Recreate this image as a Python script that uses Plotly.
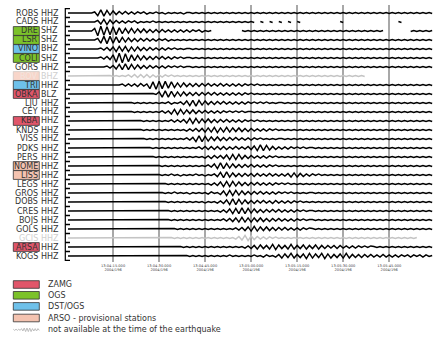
import numpy as np
import plotly.graph_objects as go

# ---------------- data ----------------
STATIONS = ["ROBS", "CADS", "DRE", "LSR", "VINO", "COLI", "GORS", "BOV", "TRI", "OBKA",
            "LJU", "CEY", "KBA", "KNDS", "VISS", "PDKS", "PERS", "NOME", "LISS", "LEGS",
            "GROS", "DOBS", "CRES", "BOJS", "GOLS", "GCIS", "ARSA", "KOGS"]
CHANNELS = ["HHZ", "HHZ", "SHZ", "SHZ", "BHZ", "SHZ", "HHZ", "BHZ", "HHZ", "BLZ",
            "HHZ", "HHZ", "HHZ", "HHZ", "HHZ", "HHZ", "HHZ", "HHZ", "HHZ", "HHZ",
            "HHZ", "HHZ", "HHZ", "HHZ", "HHZ", "HHZ", "HHZ", "HHZ"]
NETWORKS = ["", "", "OGS", "OGS", "DST/OGS", "OGS", "", "ARSO", "DST/OGS", "ZAMG",
            "", "", "ZAMG", "", "", "", "", "ARSO", "ARSO", "",
            "", "", "", "", "", "", "ZAMG", ""]
AVAILABLE = [True] * 7 + [False] + [True] * 17 + [False] + [True] * 2

# Seismogram samples, 1 per second from 13:04:00 (10 samples per group).
# '0'-'9' = +0..+9, 'a'-'i' = -1..-9, '.' = no data
WAVES = [
    "0000000002 e6f5d4c3b3 b2b2a2b1a2 a1b1a1a1b1 1a1a1a1a1a 1a1a1a1a1a 1a1a1a1a1a 1a1a1a1a1a 1a1a1a1a1a 1a1a1a1a1a 1a1a1a1a1a 1a1a1a1a1a",  # ROBS
    "0000000000 3d5e4c3b2b 2a2b1a1a2a 1a1a1a1a1a 1a1a1a1a1a 1a1a1a1a1a 1a.1a.1a.1 a.1a.1a.1. .........1 a......... ........1a ..........",  # CADS
    "0000000005 i9h8g8g6e5 d5d4c4c3c3 c3b2b2b2b2 b2a2b1a1.. .......1a1 a1a1a1a1a1 a1a1a1a1a1 a1a1a1a1a1 a1a1a1a1a1 a1a1...... ..a1a1a1a1",  # DRE
    "0000000000 3f7g7f6e5d 4c3c3b3b2b 2a2b1a1a1a 1a1a1a1a1a 1a1a1a1a1a 1a1a1a1a1a 1a1a1a1a1a 1a1a1a1a1a 1a1a1a1a1a 1a1a1a1a1a 1a1a1a1a1a",  # LSR
    "0000000000 02b3c4e5d5 e4d4c3c3b2 b2b2a2a1a1 1a1a1a1a1a 1a1a1a1a1a 1a1a1a1a1a 1a1a1a1a1a 1a1a1a1a1a 1a1a1a1a1a 1a1a1a1a1a 1a1a1a1a1a",  # VINO
    "0000000000 02b3c6h9i8 g6e5d4c3c3 b3b2b2a2a1 1a1a1a1a1a 1a1a1a1a1a 1a1a1a1a1a 1a1a1a1a1a 1a1a1a1a1a 1a1a1a1a1a 1a1a1a1a1a 1a1a1a1a1a",  # COLI
    "0000000000 0002b3d5e6 e5d4c3c3b2 b2b2a2a2a1 1a1a1a1a1a 1a1a1a1a1a 1a1a1a1a1a 1a1a1a1a1a 1a1a1a1a1a 1a1a1a1a1a 1a1a1a1a1a 1a1a1a1a1a",  # GORS
    "0000000000 00001a1a1a 2b3c3c3c2b 2b2a2a1a1a 1a1a1a1a1a 1a1a1a1a1a 1a1a1a1a1a 1a1a1a1a1a 1a1a1a1a1a 1a1a1a1a.. .......... ..........",  # BOV (n/a)
    "0000000000 000000002b 2b2c3b2g6h 7g7f6e4d4c 3c3c3b3b2b 3b2b2b2b2a 2a2a1a1a1a 1a1a1a1a1a 1a1a1a1a1a 1a1a1a1a1a 1a1a1a1a1a 1a1a1a1a1a",  # TRI
    "0000000000 0000000000 000000001a 4f6f5e4d4c 3c3c3b3b3b 2b2b2b2b2a 2a1a1a1a1a 1a1a1a1a1a 1a1a1a1a1a 1a1a1a1a1a 1a1a1a1a1a 1a1a1a1a1a",  # OBKA
    "0000000000 0000000000 01a1a1a1a1 a1a2b1a2c4 e5f5d4c3c3 b3b2b2b2b2 a2a2a2a1a1 1a1a1a1a1a 1a1a1a1a1a 1a1a1a1a1a 1a1a1a1a1a 1a1a1a1a1a",  # LJU
    "0000000000 0000000000 01a1a1a1a1 a2b2d5e5d4 c4c3b3b2b2 b2a2a2a2a1 1a1a1a1a1a 1a1a1a1a1a 1a1a1a1a1a 1a1a1a1a1a 1a1a1a1a1a 1a1a1a1a1a",  # CEY
    "0000000000 0000000000 00001a1a1a 1a1a2b2b3d 5e5d4c4c3c 3b3b2b2b2a 2a2a1a1a1a 1a1a1a1a1a 1a1a1a1a1a 1a1a1a1a1a 1a1a1a1a1a 1a1a1a1a1a",  # KBA
    "0000000000 0000000000 00001a1a1a 1a1a1a1a1b 2b3c3d4d5e 4d5d4c4c3c 3b2b2b2a2a 1a1a1a1a1a 1a1a1a1a1a 1a1a1a1a1a 1a1a1a1a1a 1a1a1a1a1a",  # KNDS
    "0000000000 0000000000 000001a1a1 a1a1a1a1a2 b3e6e5d4c4 c3c3b3b2b2 b2a2a1a1a1 1a1a1a1a1a 1a1a1a1a1a 1a1a1a1a1a 1a1a1a1a1a 1a1a1a1a1a",  # VISS
    "0000000000 0000000000 00000001a1 a1a1a1a1a1 a1a2b3c3c3 c3c2b3b2b3 c4e6e5d3c2 b2b2a2a2a1 1a1a1a1a1a 1a1a1a1a1a 1a1a1a1a1a 1a1a1a1a1a",  # PDKS
    "0000000000 0000000000 000000001a 1a1a1a1a1a 1a1a1b2c3b 3c4e5e5d3c 3b2b2b2a2a 1a1a1a1a1a 1a1a1a1a1a 1a1a1a1a1a 1a1a1a1a1a 1a1a1a1a1a",  # PERS
    "0000000000 0000000000 0000000000 1a1a1a1a1a 1a1a1a2b4e 6e5d4c3c3b 3b2b2b2a2a 1a1a1a1a1a 1a1a1a1a1a 1a1a1a1a1a 1a1a1a1a1a 1a1a1a1a1a",  # NOME
    "0000000000 0000000000 0000000000 1a1a2a1b1a 1a2a1b1a2c 5e6d4c3c3b 3c3b2b3b2b 2b3d4d3c2b 2a2a1a1a1a 1a1a1a1a1a 1a1a1a1a1a 1a1a1a1a1a",  # LISS
    "0000000000 0000000000 0000000000 001a1a1a1a 1a1a1a1b2c 4e5e5d4c3c 3b3b2b2b2a 2a2a1a1a1a 1a1a1a1a1a 1a1a1a1a1a 1a1a1a1a1a 1a1a1a1a1a",  # LEGS
    "0000000000 0000000000 0000000000 01a1a2a1a1 b1a1a1b2a1 c4e5e5d4c3 c3b3b2b2b2 a2a2a1a1a1 1a1a1a1a1a 1a1a1a1a1a 1a1a1a1a1a 1a1a1a1a1a",  # GROS
    "0000000000 0000000000 0000000000 001a1a1a1a 1a1a1b1a1b 2c4e6e5d4c 3c3b3b2c3b 2b2b2a2a1a 1a1a1a1a1a 1a1a1a1a1a 1a1a1a1a1a 1a1a1a1a1a",  # DOBS
    "0000000000 0000000000 0000000000 0001a1a1a1 a1a1a1a1a1 b2c4e5e6e5 d4c3c3b3b3 b2b2b2a2a1 1a1a1a1a1a 1a1a1a1a1a 1a1a1a1a1a 1a1a1a1a1a",  # CRES
    "0000000000 0000000000 0000000000 0001a1a1a1 a1a1a1a1a1 a2b3c4d5d4 d4c4c3c3b3 b2b2b2a2a1 1a1a1a1a1a 1a1a1a1a1a 1a1a1a1a1a 1a1a1a1a1a",  # BOJS
    "0000000000 0000000000 0000000000 000001a1a1 a1a1a1a1a1 a1a1a2b3c4 d5d4c4c3c3 b3b2b2b2a2 1a1a1a1a1a 1a1a1a1a1a 1a1a1a1a1a 1a1a1a1a1a",  # GOLS
    "0000000000 0000000000 0000000000 00001a1a1a 1a1a1a1a1a 1a1a1b3d5e 4c3b2b2a2a 1a1a1a1a1a 1a1a1a1a1a 1a1a1a1a1a 1a1a1a1a1a 1a1a1.....",  # GCIS (n/a)
    "0000000000 0000000000 0000000000 00000001a1 a1a1a1a1a1 a1a1a1a1b2 c3d4c3d5e4 c3d5d3c4d3 c4d3c3b3c3 b2b2b2a2a2 1a1a1a1a1a 1a1a1a1a1a",  # ARSA
    "0000000000 0000000000 0000000000 0000000001 a1a1a1a1a1 a1a2a1a1a1 a2a1b2a1b3 d4c5d3c4e5 d4c5e4d3c4 d5d3c3c3b3 b2b3b2b2b2 a2b2a2b2a1",  # KOGS
]

TICK_SECONDS = [15, 30, 45, 60, 75, 90, 105]
TICK_TIMES = ["13:04:15.000", "13:04:30.000", "13:04:45.000", "13:05:00.000",
              "13:05:15.000", "13:05:30.000", "13:05:45.000"]
TICK_DATE = "2004/196"

LEGEND_LABELS = ["ZAMG", "OGS", "DST/OGS", "ARSO - provisional stations",
                 "not available at the time of the earthquake"]
NETWORK_COLORS = {"ZAMG": "#e0566a", "OGS": "#7cc22a", "DST/OGS": "#6ec1ea",
                  "ARSO": "#f4c3b0"}

# ---------------- layout geometry ----------------
W, H = 434, 340
L, R, T, B = 68, 0, 5, 78
PW, PH = W - L - R, H - T - B
ROW_PX, FIRST_ROW_PX = 9, 13
AMP = 0.058         # row units per amplitude step
FONT = "DejaVu Sans"


def xp(px):
    return (px - L) / PW


def yp(py):
    return (T + PH - py) / PH


def row_px(i):
    return FIRST_ROW_PX + ROW_PX * i


def decode(s):
    out = []
    for g in s.split():
        g = (g + "0" * 10)[:10]
        for ch in g:
            if ch == ".":
                out.append(np.nan)
            elif ch.isdigit():
                out.append(float(ch))
            else:
                out.append(-float(ord(ch) - 96))
    return np.array(out)


fig = go.Figure()

for i, s in enumerate(WAVES):
    v = decode(s)
    t = np.arange(len(v))
    fig.add_trace(go.Scatter(
        x=t, y=-i + v * AMP, mode="lines",
        line=dict(color="#000000" if AVAILABLE[i] else "#c4c4c4", width=1.45),
        hoverinfo="skip", showlegend=False))

shapes = []
annotations = []

# left brackets
bpath = ""
for i in range(len(STATIONS)):
    y0 = yp(row_px(i) - 4.4)
    y1 = yp(row_px(i) + 4.4)
    bpath += f"M{xp(70)},{y0} L{xp(65.3)},{y0} L{xp(65.3)},{y1} L{xp(70)},{y1} "
shapes.append(dict(type="path", xref="paper", yref="paper", path=bpath,
                   line=dict(color="#000", width=1.2), layer="above"))

# station labels
for i, (name, ch, net) in enumerate(zip(STATIONS, CHANNELS, NETWORKS)):
    py = row_px(i)
    txtcol = "#333333" if AVAILABLE[i] else "#cfcfcf"
    txtcol_name = txtcol
    if net:
        fill = NETWORK_COLORS[net]
        border = "#333333"
        if not AVAILABLE[i]:
            fill, border = "#f8d6ca", "#d0c8c4"
            txtcol_name = "#f2e4de"
        shapes.append(dict(type="rect", xref="paper", yref="paper",
                           x0=xp(13.3), x1=xp(39.3), y0=yp(py - 4.4), y1=yp(py + 4.4),
                           fillcolor=fill, line=dict(color=border, width=0.8),
                           layer="above"))
    annotations.append(dict(xref="paper", yref="paper", x=xp(38.2), y=yp(py),
                            xanchor="right", yanchor="middle", text=name,
                            showarrow=False, borderpad=0, borderwidth=0,
                            font=dict(family=FONT, size=8, color=txtcol_name)))
    annotations.append(dict(xref="paper", yref="paper", x=xp(40.6), y=yp(py),
                            xanchor="left", yanchor="middle", text=ch,
                            showarrow=False, borderpad=0, borderwidth=0,
                            font=dict(family=FONT, size=8, color=txtcol)))

# bottom legend
LEG_Y = [284.5, 295.3, 306.4, 318.0, 329.8]
for k, lab in enumerate(LEGEND_LABELS):
    py = LEG_Y[k]
    if k < 4:
        net = ["ZAMG", "OGS", "DST/OGS", "ARSO"][k]
        shapes.append(dict(type="rect", xref="paper", yref="paper",
                           x0=xp(13.3), x1=xp(39.3), y0=yp(py - 3.8), y1=yp(py + 3.8),
                           fillcolor=NETWORK_COLORS[net],
                           line=dict(color="#333333", width=0.8)))
    else:
        icon = decode(WAVES[7])[14:34]
        xs = np.linspace(13.3, 39.3, len(icon))
        ipath = "M" + " L".join(f"{xp(x)},{yp(py - 0.6 * v)}" for x, v in zip(xs, icon))
        shapes.append(dict(type="path", xref="paper", yref="paper", path=ipath,
                           line=dict(color="#bdbdbd", width=1)))
    annotations.append(dict(xref="paper", yref="paper", x=xp(48.3), y=yp(py),
                            xanchor="left", yanchor="middle", text=lab,
                            showarrow=False, borderpad=0, borderwidth=0,
                            font=dict(family=FONT, size=8, color="#333333")))

ymax = (FIRST_ROW_PX - T) / ROW_PX
ymin = -(T + PH - FIRST_ROW_PX) / ROW_PX

fig.update_layout(
    width=W, height=H,
    margin=dict(l=L, r=R, t=T, b=B, pad=0),
    paper_bgcolor="white", plot_bgcolor="white",
    showlegend=False,
    font=dict(family=FONT, color="#333333"),
    shapes=shapes, annotations=annotations,
    xaxis=dict(range=[0.3, 119.6], tickvals=TICK_SECONDS,
               ticktext=[f"{tt}<br>{TICK_DATE}" for tt in TICK_TIMES],
               showgrid=True, gridcolor="#a8a8a8", gridwidth=1.5,
               zeroline=False, showline=False, ticks="",
               tickfont=dict(family=FONT, size=3.6, color="#444444"),
               fixedrange=True),
    yaxis=dict(range=[ymin, ymax], showgrid=False, zeroline=False,
               showticklabels=False, showline=False, fixedrange=True),
)

fig.write_html("out.html")
